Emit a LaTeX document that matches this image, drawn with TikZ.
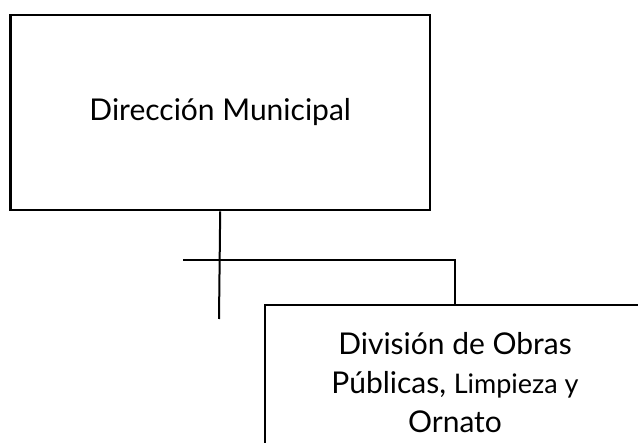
\documentclass[tikz,border=0pt]{standalone}
\usepackage{fontspec}
\setmainfont{Lato}

\begin{document}
\begin{tikzpicture}
[-,line width=2pt,x=1pt,y=-1pt,%
  every node/.style={shape=rectangle,draw,line width=2.6pt,align=center,inner sep=0pt}]
\useasboundingbox (0,0) rectangle (638,443);
\clip (0,0) rectangle (638,443);
\fontsize{30}{39}\selectfont
\node[minimum width=419.7pt,minimum height=195pt] (dir) at (220.2,112.5) {Dirección Municipal};
\node[minimum width=380pt,minimum height=156pt] (div) at (455,383)
  {División de Obras\\Públicas, {\fontsize{27}{39}\selectfont Limpieza y}\\Ornato};
\coordinate (tail) at (219,319);
\coordinate (bar) at (183,260);
\draw (dir.south) -- (tail);
\draw (bar) -- (bar -| div.north) -- (div.north);
\end{tikzpicture}
\end{document}
